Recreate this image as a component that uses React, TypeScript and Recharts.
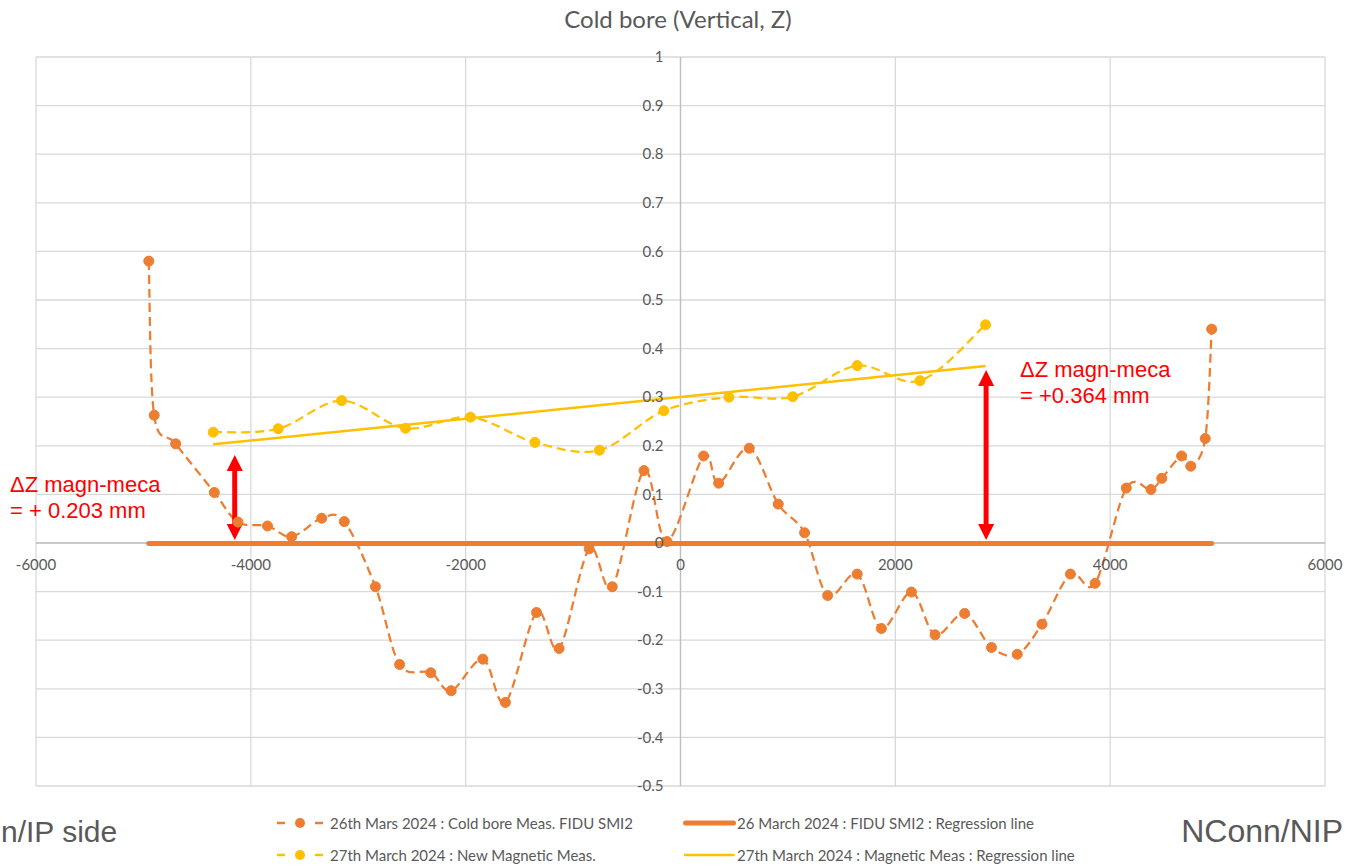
import React from "react";
import { ComposedChart, Line, XAxis, YAxis, CartesianGrid, ReferenceLine, Legend } from "recharts";

// ---------- data ----------
const coldBoreX = [-4950, -4900, -4700, -4340, -4120, -3845, -3620, -3340, -3130, -2840, -2615, -2325, -2135, -1840, -1630, -1340, -1130, -850, -635, -340, -125, 215, 355, 640, 910, 1155, 1370, 1645, 1870, 2150, 2370, 2645, 2895, 3135, 3365, 3630, 3860, 4150, 4380, 4480, 4665, 4750, 4885, 4945];
const coldBoreZ = [0.58, 0.263, 0.204, 0.104, 0.043, 0.035, 0.013, 0.051, 0.044, -0.09, -0.25, -0.267, -0.304, -0.239, -0.328, -0.143, -0.217, -0.012, -0.09, 0.149, 0.003, 0.179, 0.123, 0.195, 0.08, 0.021, -0.108, -0.064, -0.176, -0.101, -0.189, -0.145, -0.215, -0.229, -0.167, -0.064, -0.083, 0.113, 0.11, 0.133, 0.179, 0.158, 0.215, 0.44];

const magneticX = [-4350, -3745, -3155, -2560, -1955, -1355, -755, -155, 450, 1045, 1645, 2230, 2840];
const magneticZ = [0.228, 0.235, 0.293, 0.236, 0.259, 0.207, 0.191, 0.272, 0.3, 0.301, 0.365, 0.334, 0.449];

const coldRegX = [-4950, 4945];
const coldRegZ = [-0.001, -0.001];
const magRegX = [-4350, 2840];
const magRegZ = [0.203, 0.364];

const xTicks = [-6000, -4000, -2000, 0, 2000, 4000, 6000];
const yTicks = [-0.5, -0.4, -0.3, -0.2, -0.1, 0, 0.1, 0.2, 0.3, 0.4, 0.5, 0.6, 0.7, 0.8, 0.9, 1];

const seriesNames = [
  "26th Mars 2024 : Cold bore Meas. FIDU SMI2",
  "26 March 2024 : FIDU SMI2 : Regression line",
  "27th March 2024 : New Magnetic Meas.",
  "27th March 2024 : Magnetic Meas : Regression line",
];

const title = "Cold bore (Vertical, Z)";
const leftSide = "n/IP side";
const rightSide = "NConn/NIP";
const leftNote = ["\u0394Z magn-meca", "= + 0.203 mm"];
const rightNote = ["\u0394Z magn-meca", "= +0.364 mm"];
const leftArrow = { x: -4150, from: 0.006, to: 0.181 };
const rightArrow = { x: 2845, from: 0.006, to: 0.356 };

const zip = (xs: number[], zs: number[]) => xs.map((x, i) => ({ x, z: zs[i] }));
const coldBoreData = zip(coldBoreX, coldBoreZ);
const magneticData = zip(magneticX, magneticZ);
const coldRegData = zip(coldRegX, coldRegZ);
const magRegData = zip(magRegX, magRegZ);

// ---------- layout / style ----------
const W = 1345;
const H = 866;
const Y_AXIS_W = 1;
const X_AXIS_H = 1;
const MARGIN = { top: 57, right: 20, bottom: 80 - X_AXIS_H, left: 36 - Y_AXIS_W };
const PLOT_LEFT = 36;
const PLOT_W = W - PLOT_LEFT - MARGIN.right;
const PLOT_H = H - MARGIN.top - 80;
const ZERO_X = PLOT_LEFT + PLOT_W / 2;
const ZERO_Y = MARGIN.top + PLOT_H * (1 / 1.5);

const ORANGE = "#ED7D31";
const YELLOW = "#FFC000";
const GRID = "#D9D9D9";
const TEXT = "#595959";
const FONT = "Lato, 'Open Sans', sans-serif";
const ARIAL = "'Liberation Sans', Arial, sans-serif";

// Excel-like smoothed curve (Catmull-Rom as cubic Bezier)
const excelSmooth: any = (context: any) => {
  let pts: number[][] = [];
  return {
    areaStart() {},
    areaEnd() {},
    lineStart() {
      pts = [];
    },
    point(x: number, y: number) {
      pts.push([+x, +y]);
    },
    lineEnd() {
      if (!pts.length) return;
      context.moveTo(pts[0][0], pts[0][1]);
      for (let i = 0; i < pts.length - 1; i++) {
        const p0 = pts[i - 1] || pts[i];
        const p1 = pts[i];
        const p2 = pts[i + 1];
        const p3 = pts[i + 2] || pts[i + 1];
        context.bezierCurveTo(
          p1[0] + (p2[0] - p0[0]) / 6,
          p1[1] + (p2[1] - p0[1]) / 6,
          p2[0] - (p3[0] - p1[0]) / 6,
          p2[1] - (p3[1] - p1[1]) / 6,
          p2[0],
          p2[1]
        );
      }
    },
  };
};

const fmtY = (v: number) => String(Math.round(v * 10) / 10);

const renderXTick = (props: any) => (
  <text x={props.x} y={ZERO_Y + 22} dy="0.35em" textAnchor="middle" fill={TEXT} fontSize={15} fontFamily={FONT}>
    {props.payload.value}
  </text>
);

const renderYTick = (props: any) => (
  <text x={ZERO_X - 17} y={props.y} dy="0.35em" textAnchor="end" fill={TEXT} fontSize={15} fontFamily={FONT}>
    {fmtY(props.payload.value)}
  </text>
);

const DoubleArrow = (props: any) => {
  const { x1, y1, y2 } = props;
  if (x1 == null || y1 == null || y2 == null) return <g />;
  const x = x1;
  const top = Math.min(y1, y2);
  const bot = Math.max(y1, y2);
  const hw = 8;
  const hh = 16;
  return (
    <g>
      <line x1={x} x2={x} y1={top + hh - 2} y2={bot - hh + 2} stroke="#FF0000" strokeWidth={5} />
      <polygon points={`${x},${top} ${x - hw},${top + hh} ${x + hw},${top + hh}`} fill="#FF0000" />
      <polygon points={`${x},${bot} ${x - hw},${bot - hh} ${x + hw},${bot - hh}`} fill="#FF0000" />
    </g>
  );
};

const legendStyles = [
  { left: 277, top: 823, kind: "dash", color: ORANGE },
  { left: 683, top: 823, kind: "thick", color: ORANGE },
  { left: 277, top: 855, kind: "dash", color: YELLOW },
  { left: 683, top: 855, kind: "thin", color: YELLOW },
];

const LegendContent = (props: any) => {
  const payload = props.payload || [];
  return (
    <div style={{ position: "relative", width: W, height: H }}>
      {payload.map((entry: any, k: number) => {
        const i = seriesNames.indexOf(entry.value);
        const st = legendStyles[i];
        if (!st) return null;
        const mw = st.kind === "dash" ? 47 : 53;
        return (
          <div
            key={k}
            style={{
              position: "absolute",
              left: st.left,
              top: st.top - 10,
              height: 20,
              display: "flex",
              alignItems: "center",
              whiteSpace: "nowrap",
            }}
          >
            <svg width={mw} height={20} style={{ display: "block" }}>
              {st.kind === "dash" ? (
                <g>
                  <line x1={0} x2={8} y1={10} y2={10} stroke={st.color} strokeWidth={2.5} />
                  <circle cx={23} cy={10} r={5} fill={st.color} />
                  <line x1={38} x2={46} y1={10} y2={10} stroke={st.color} strokeWidth={2.5} />
                </g>
              ) : (
                <line
                  x1={st.kind === "thick" ? 2.5 : 2}
                  x2={mw - 2.5}
                  y1={10}
                  y2={10}
                  stroke={st.color}
                  strokeWidth={st.kind === "thick" ? 5 : 2.5}
                  strokeLinecap="round"
                />
              )}
            </svg>
            <span style={{ marginLeft: st.kind === "dash" ? 6 : 1, fontFamily: FONT, fontSize: 15, color: TEXT }}>
              {entry.value}
            </span>
          </div>
        );
      })}
    </div>
  );
};

export default function App() {
  return (
    <div style={{ position: "absolute", left: 0, top: 0, width: W, height: H, overflow: "hidden", background: "#fff" }}>
      <ComposedChart width={W} height={H} margin={MARGIN}>
        <CartesianGrid stroke={GRID} strokeWidth={1.3} vertical horizontal />
        <XAxis
          type="number"
          dataKey="x"
          domain={[-6000, 6000]}
          ticks={xTicks}
          interval={0}
          axisLine={false}
          tickLine={false}
          height={X_AXIS_H}
          tick={renderXTick}
          allowDataOverflow
        />
        <YAxis
          type="number"
          domain={[-0.5, 1]}
          ticks={yTicks}
          interval={0}
          axisLine={false}
          tickLine={false}
          width={Y_AXIS_W}
          tick={renderYTick}
          allowDataOverflow
        />
        <ReferenceLine x={0} stroke="#BFBFBF" strokeWidth={1.3} />
        <ReferenceLine y={0} stroke="#BFBFBF" strokeWidth={1.3} />
        <Line
          data={coldBoreData}
          dataKey="z"
          name={seriesNames[0]}
          type={excelSmooth}
          stroke={ORANGE}
          strokeWidth={2.25}
          strokeDasharray="9 5"
          dot={{ r: 5, fill: ORANGE, stroke: ORANGE, strokeWidth: 1, strokeDasharray: "" }}
          activeDot={false}
          isAnimationActive={false}
        />
        <Line
          data={coldRegData}
          dataKey="z"
          name={seriesNames[1]}
          type="linear"
          stroke={ORANGE}
          strokeWidth={5}
          strokeLinecap="round"
          dot={false}
          activeDot={false}
          isAnimationActive={false}
        />
        <Line
          data={magneticData}
          dataKey="z"
          name={seriesNames[2]}
          type={excelSmooth}
          stroke={YELLOW}
          strokeWidth={2.25}
          strokeDasharray="9 5"
          dot={{ r: 5, fill: YELLOW, stroke: YELLOW, strokeWidth: 1, strokeDasharray: "" }}
          activeDot={false}
          isAnimationActive={false}
        />
        <Line
          data={magRegData}
          dataKey="z"
          name={seriesNames[3]}
          type="linear"
          stroke={YELLOW}
          strokeWidth={2.5}
          dot={false}
          activeDot={false}
          isAnimationActive={false}
        />
        <ReferenceLine
          segment={[
            { x: leftArrow.x, y: leftArrow.from },
            { x: leftArrow.x, y: leftArrow.to },
          ]}
          shape={DoubleArrow}
        />
        <ReferenceLine
          segment={[
            { x: rightArrow.x, y: rightArrow.from },
            { x: rightArrow.x, y: rightArrow.to },
          ]}
          shape={DoubleArrow}
        />
        <Legend
          layout="horizontal"
          verticalAlign="middle"
          align="center"
          itemSorter={null as any}
          wrapperStyle={{ position: "absolute", left: 0, top: 0, width: W, height: H, pointerEvents: "none" }}
          content={<LegendContent />}
        />
      </ComposedChart>
      <svg width={W} height={H} style={{ position: "absolute", left: 0, top: 0, pointerEvents: "none" }}>
        <text x={678} y={20} dy="0.35em" textAnchor="middle" fill={TEXT} fontSize={24} fontFamily={FONT}>
          {title}
        </text>
        <text x={1} y={842} textAnchor="start" fill={TEXT} fontSize={30} fontFamily={ARIAL}>
          {leftSide}
        </text>
        <text x={1343} y={842} textAnchor="end" fill={TEXT} fontSize={32} fontFamily={ARIAL}>
          {rightSide}
        </text>
        <g fill="#FF0000" fontSize={22} fontFamily={ARIAL}>
          <text x={10} y={492}>{leftNote[0]}</text>
          <text x={10} y={518}>{leftNote[1]}</text>
          <text x={1020} y={377}>{rightNote[0]}</text>
          <text x={1020} y={403}>{rightNote[1]}</text>
        </g>
      </svg>
    </div>
  );
}
